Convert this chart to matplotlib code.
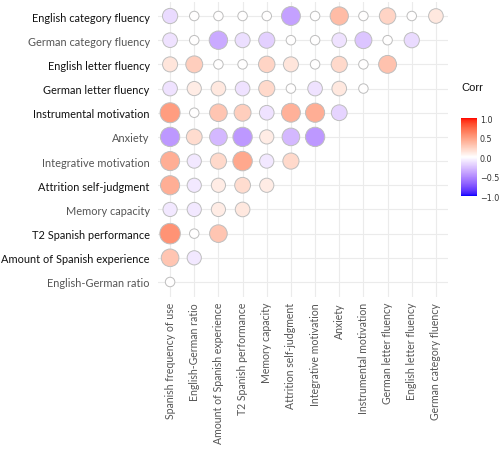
import numpy as np
import matplotlib
matplotlib.use("Agg")
import matplotlib.pyplot as plt
from matplotlib.colors import ListedColormap

rows = ["English category fluency", "German category fluency", "English letter fluency",
        "German letter fluency", "Instrumental motivation", "Anxiety", "Integrative motivation",
        "Attrition self-judgment", "Memory capacity", "T2 Spanish performance",
        "Amount of Spanish experience", "English-German ratio"]
cols = ["Spanish frequency of use", "English-German ratio", "Amount of Spanish experience",
        "T2 Spanish performance", "Memory capacity", "Attrition self-judgment",
        "Integrative motivation", "Anxiety", "Instrumental motivation", "German letter fluency",
        "English letter fluency", "German category fluency"]

r_eng_cat = [-0.15, 0.0, 0.0, 0.0, 0.0, -0.40, 0.0, 0.35, 0.0, 0.22, 0.0, 0.12]
r_ger_cat = [-0.12, 0.0, -0.36, -0.14, -0.20, 0.0, 0.0, -0.12, -0.25, 0.0, -0.15]
r_eng_let = [0.14, 0.25, 0.0, 0.0, 0.22, 0.14, 0.0, 0.20, 0.0, 0.32]
r_ger_let = [-0.12, 0.10, 0.12, -0.12, 0.20, 0.0, -0.12, 0.12, 0.0]
r_instr = [0.50, 0.0, 0.30, 0.25, -0.12, 0.40, 0.42, -0.18]
r_anx = [-0.44, 0.18, -0.30, -0.44, 0.10, -0.30, -0.44]
r_integ = [0.42, -0.10, 0.20, 0.45, -0.10, 0.20]
r_attr = [0.42, -0.10, 0.10, 0.18, 0.10]
r_mem = [-0.10, -0.10, 0.10, 0.12]
r_t2 = [0.55, 0.0, 0.30]
r_amount = [0.30, -0.10]
r_ratio = [0.0]
values = [r_eng_cat, r_ger_cat, r_eng_let, r_ger_let, r_instr, r_anx, r_integ,
          r_attr, r_mem, r_t2, r_amount, r_ratio]
dark_rows = {"English category fluency", "English letter fluency", "German letter fluency",
             "Instrumental motivation", "Attrition self-judgment", "T2 Spanish performance",
             "Amount of Spanish experience"}

# Lab-interpolated gradient (like ggplot scale_fill_gradient2)
def srgb_to_lab(c):
    c = np.asarray(c, float)
    lin = np.where(c <= 0.04045, c / 12.92, ((c + 0.055) / 1.055) ** 2.4)
    M = np.array([[0.4124, 0.3576, 0.1805], [0.2126, 0.7152, 0.0722], [0.0193, 0.1192, 0.9505]])
    xyz = M @ lin
    wp = np.array([0.95047, 1.0, 1.08883])
    t = xyz / wp
    f = np.where(t > 0.008856, np.cbrt(t), 7.787 * t + 16 / 116)
    return np.array([116 * f[1] - 16, 500 * (f[0] - f[1]), 200 * (f[1] - f[2])])

def lab_to_srgb(lab):
    L, a, b = lab
    fy = (L + 16) / 116
    fx = fy + a / 500
    fz = fy - b / 200
    def finv(f):
        return f ** 3 if f ** 3 > 0.008856 else (f - 16 / 116) / 7.787
    wp = np.array([0.95047, 1.0, 1.08883])
    xyz = np.array([finv(fx), finv(fy), finv(fz)]) * wp
    Minv = np.array([[3.2406, -1.5372, -0.4986], [-0.9689, 1.8758, 0.0415], [0.0557, -0.2040, 1.0570]])
    lin = Minv @ xyz
    lin = np.clip(lin, 0, 1)
    c = np.where(lin <= 0.0031308, 12.92 * lin, 1.055 * lin ** (1 / 2.4) - 0.055)
    return np.clip(c, 0, 1)

lab_b = srgb_to_lab([0, 0, 1])
lab_w = srgb_to_lab([1, 1, 1])
lab_r = srgb_to_lab([1, 0, 0])
cl = []
for t in np.linspace(-1, 1, 256):
    if t < 0:
        lab = lab_w + (lab_b - lab_w) * (-t)
    else:
        lab = lab_w + (lab_r - lab_w) * t
    cl.append(lab_to_srgb(lab))
cmap = ListedColormap(cl)

fig = plt.figure(figsize=(5.0, 4.52), dpi=100)
W, H = 500, 452
ax = fig.add_axes([158 / W, 1 - 297.5 / H, 290 / W, 295 / H])
ax.set_xlim(0.5, 12.5)
ax.set_ylim(12.6, 0.4)
ax.set_facecolor("white")
for s in ax.spines.values():
    s.set_visible(False)
ax.set_xticks(range(1, 13))
ax.set_yticks(range(1, 13))
ax.grid(True, color="#EBEBEB", linewidth=0.8)
ax.set_axisbelow(True)
ax.tick_params(axis="y", length=0, pad=6)
ax.tick_params(axis="x", length=0, pad=4)

xs, ys, vs = [], [], []
for i, rv in enumerate(values):
    for j, v in enumerate(rv):
        xs.append(j + 1)
        ys.append(i + 1)
        vs.append(v)
vs = np.array(vs)
vmax = np.abs(vs).max()
d_px = 9.5 + 11 * np.sqrt(np.abs(vs) / vmax)
sizes = (d_px * 0.72) ** 2
sc = ax.scatter(xs, ys, s=sizes, c=vs, cmap=cmap, vmin=-1, vmax=1,
                edgecolors="#BEBEBE", linewidths=0.7, zorder=3)

fam = ["Lato", "DejaVu Sans"]
ax.set_yticklabels(rows, fontsize=7.9, family=fam)
for lab in ax.get_yticklabels():
    lab.set_color("#111111" if lab.get_text() in dark_rows else "#555555")
ax.set_xticklabels(cols, rotation=90, fontsize=7.6, family=fam, color="#555555")

cax = fig.add_axes([461 / W, 1 - 197 / H, 16 / W, 78 / H])
cb = fig.colorbar(sc, cax=cax, ticks=[-1, -0.5, 0, 0.5, 1])
cb.outline.set_visible(False)
cb.ax.set_yticklabels(["\u22121.0", "\u22120.5", "0.0", "0.5", "1.0"])
cb.ax.tick_params(length=0, labelsize=5.8, colors="#333333", pad=2)
fig.text(461 / W, 1 - 88 / H, "Corr", fontsize=8, family="Liberation Sans",
         color="#111111", va="center", ha="left")

fig.savefig("out.png", dpi=100, facecolor="white")
